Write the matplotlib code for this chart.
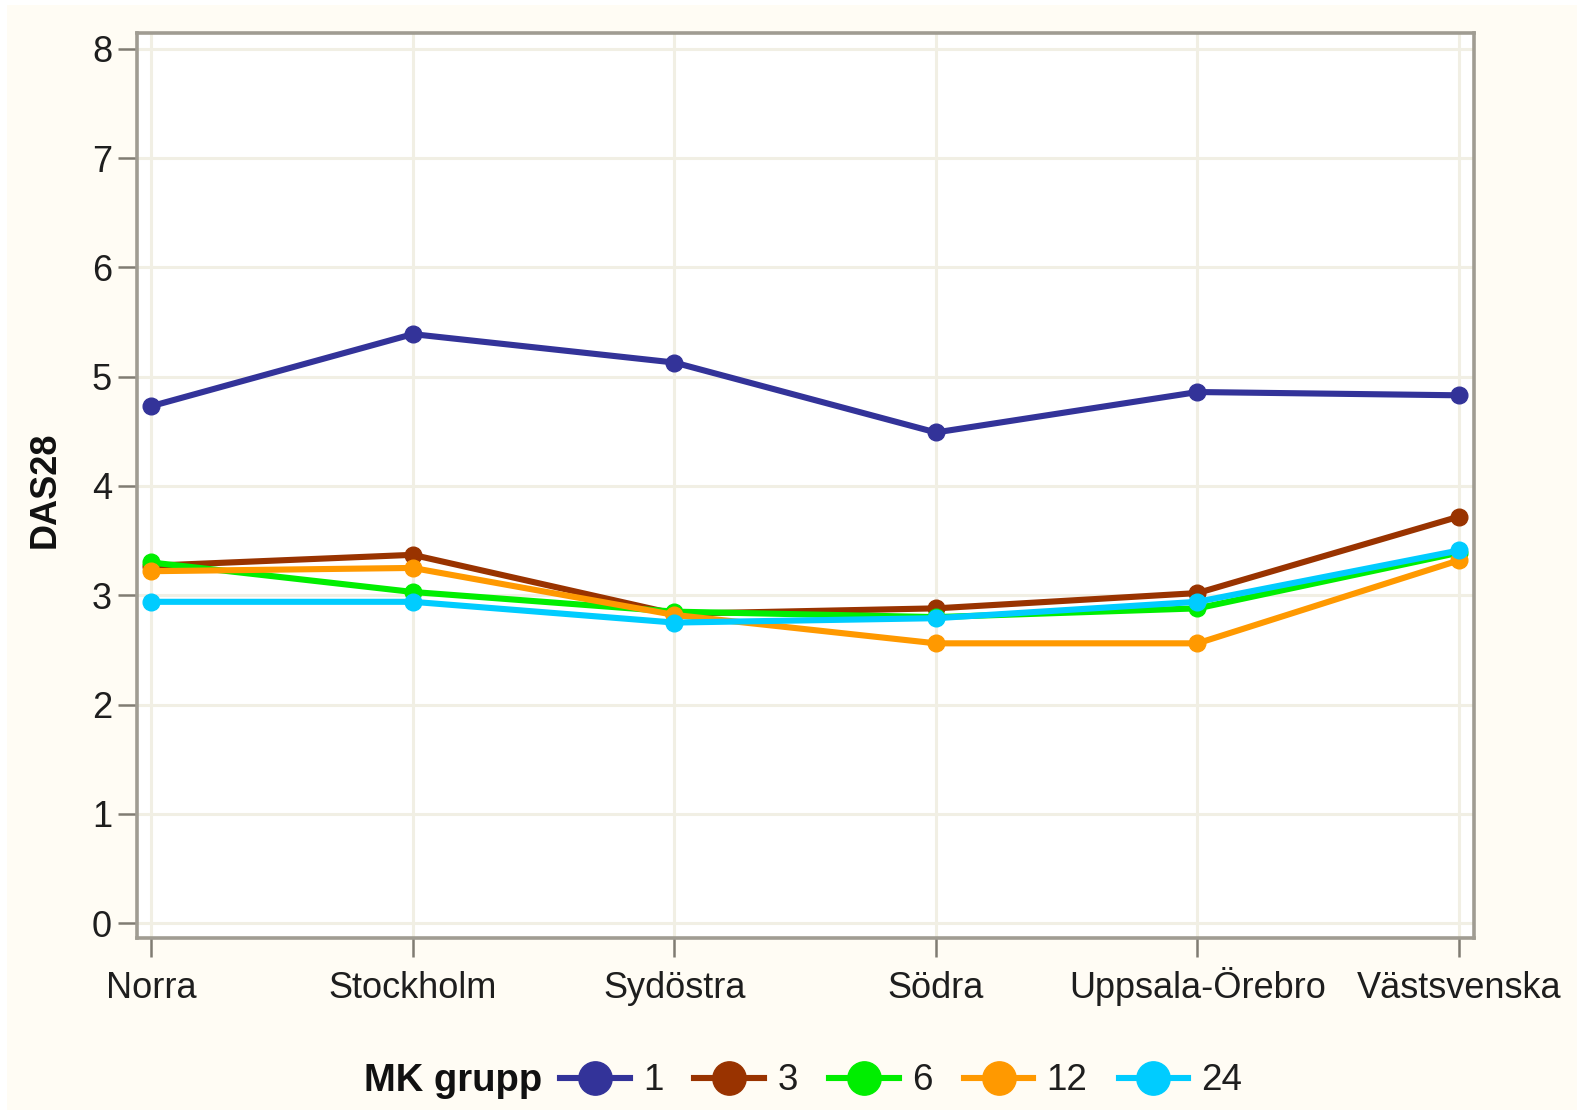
import matplotlib
matplotlib.use("Agg")
import matplotlib.pyplot as plt
from matplotlib.patches import Rectangle

regions = ["Norra", "Stockholm", "Sydöstra", "Södra", "Uppsala-Örebro", "Västsvenska"]
groups = ["1", "3", "6", "12", "24"]
g1 = [4.73, 5.39, 5.13, 4.49, 4.86, 4.83]
g3 = [3.27, 3.37, 2.83, 2.88, 3.02, 3.72]
g6 = [3.30, 3.03, 2.85, 2.80, 2.88, 3.39]
g12 = [3.22, 3.25, 2.82, 2.56, 2.56, 3.32]
g24 = [2.94, 2.94, 2.75, 2.79, 2.94, 3.41]
series = [g1, g3, g6, g12, g24]
colors = ["#333399", "#993300", "#00EE00", "#FF9900", "#00CCFF"]
yticks = [0, 1, 2, 3, 4, 5, 6, 7, 8]

plt.rcParams['font.family'] = ['Liberation Sans', 'DejaVu Sans']

fig = plt.figure(figsize=(15.77, 11.10), dpi=100, facecolor="white")
fig.patches.append(Rectangle((7/1577, 0), 1, 1 - 5/1110, transform=fig.transFigure,
                             facecolor="#FFFCF4", edgecolor="none", zorder=-10))

ax = fig.add_axes([137/1577, 1 - 938/1110, (1474 - 137)/1577, (938 - 33)/1110])
ax.set_facecolor("white")

x = list(range(len(regions)))
for vals, col, lab in zip(series, colors, groups):
    ax.plot(x, vals, color=col, lw=4.4, marker="o", ms=12, label=lab,
            solid_joinstyle="round", zorder=3)

ax.set_xlim(-0.054, 5.057)
ax.set_ylim(-0.137, 8.146)
ax.set_xticks(x)
ax.set_xticklabels(regions)
ax.set_yticks(yticks)
ax.grid(True, color="#F1EFE4", lw=2.2, zorder=0)
ax.set_axisbelow(True)
for s in ax.spines.values():
    s.set_color("#A09C92")
    s.set_linewidth(2.6)
ax.tick_params(axis="both", length=14, width=1.8, color="#807C72",
               labelsize=26, labelcolor="#1E1E1E")
ax.tick_params(axis="x", pad=29)
ax.tick_params(axis="y", pad=4)
for t in ax.get_xticklabels():
    t.set_va("baseline")

fig.text(45/1577, 1 - 490/1110, "DAS28", rotation=90, ha="center", va="center",
         fontsize=26, fontweight="bold", color="#111111")

fig.text(364/1577, 1 - 1081/1110, "MK grupp", ha="left", va="center",
         fontsize=27.5, fontweight="bold", color="#111111")
leg = fig.legend(loc="center left", bbox_to_anchor=(560/1577, 1 - 1081/1110),
                 ncol=5, frameon=False, fontsize=26.5, handlelength=1.9,
                 handletextpad=0.35, columnspacing=0.85, markerscale=2.0,
                 borderpad=0, borderaxespad=0)
for t in leg.get_texts():
    t.set_color("#1E1E1E")

fig.savefig("out.png", dpi=100, facecolor=fig.get_facecolor())
